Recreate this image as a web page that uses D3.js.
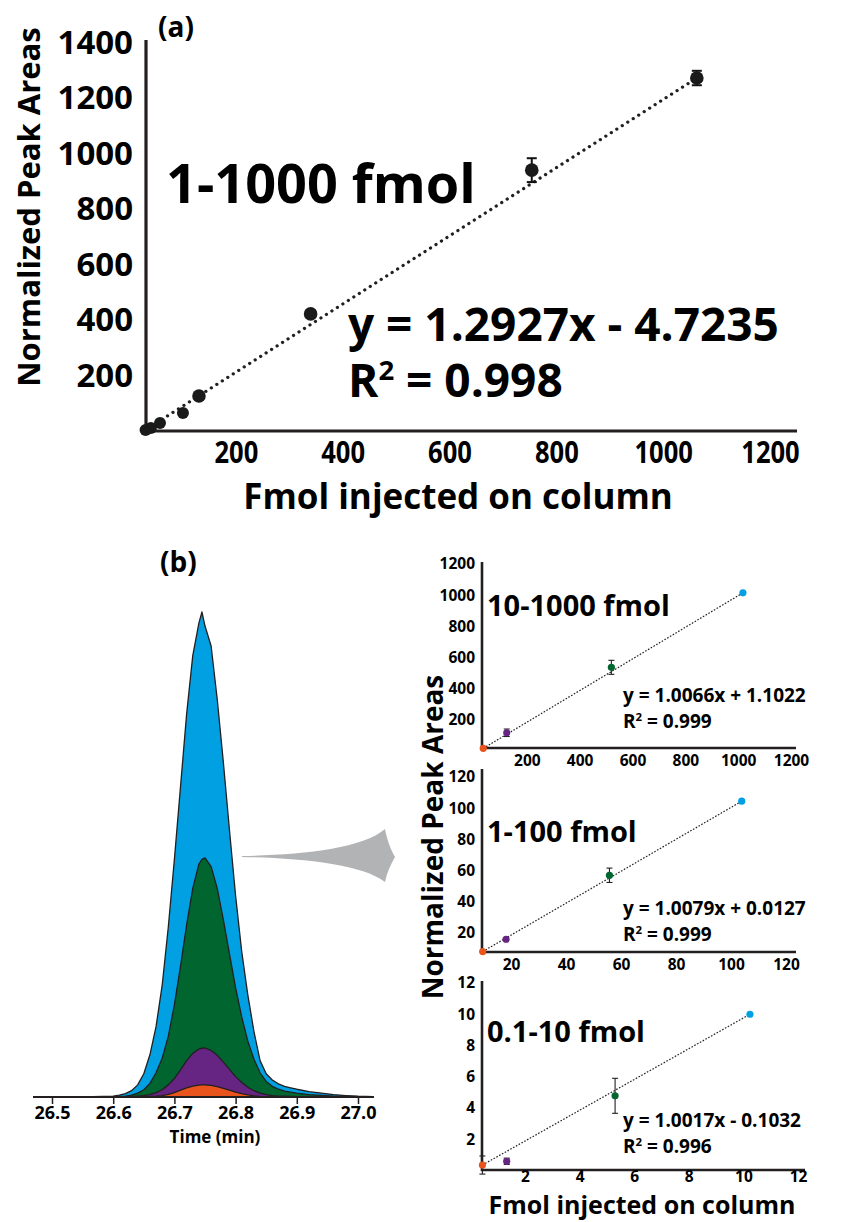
<!DOCTYPE html>
<html>
<head>
<meta charset="utf-8">
<script src="https://cdn.jsdelivr.net/npm/d3@7"></script>
<style>
  body { margin: 0; background: #fff; }
  svg text { font-family: "Open Sans", sans-serif; font-weight: 700; fill: #000; }
</style>
</head>
<body>
<svg id="fig" width="849" height="1222"></svg>
<script>
// ---------- data: panel (a), 1-1000 fmol calibration
const aFmol = [31, 41, 58, 101, 131, 340, 754, 1063]
const aArea = [4, 11, 29, 65, 126, 422, 940, 1272]
const aErr = [0, 0, 0, 0, 0, 12, 43, 26]
const aXTicks = [200, 400, 600, 800, 1000, 1200]
const aYTicks = [200, 400, 600, 800, 1000, 1200, 1400]

// ---------- data: panel (b), extracted ion chromatograms (relative intensity, %)
const chromTime = [26.47, 26.55, 26.60, 26.61, 26.62, 26.63, 26.64, 26.65, 26.66, 26.67,
  26.68, 26.69, 26.70, 26.71, 26.72, 26.73, 26.74, 26.745, 26.75, 26.76,
  26.77, 26.78, 26.79, 26.80, 26.81, 26.82, 26.83, 26.84, 26.85, 26.86,
  26.87, 26.88, 26.89, 26.90, 26.92, 26.94, 26.96, 26.98, 27.00, 27.025]
const chrom1000 = [0, 0, 0.2, 0.4, 0.7, 1.3, 2.5, 4.8, 8.7, 14.5,
  23, 35, 49, 64, 79, 91, 97.7, 100, 97.1, 93,
  82, 69, 55, 41.5, 30, 21, 13.5, 7.5, 4.8, 3.5,
  2.7, 2.2, 1.9, 1.6, 1.1, 0.8, 0.5, 0.3, 0.15, 0.05]
const chrom500 = [0, 0, 0.05, 0.1, 0.2, 0.4, 0.8, 1.5, 2.8, 5,
  8, 12.5, 19, 27, 35.5, 43, 48, 49, 49.3, 47.5,
  43, 36.5, 29.5, 22.5, 16.5, 11.5, 7.8, 5.0, 3.2, 2.2,
  1.6, 1.2, 1.0, 0.8, 0.5, 0.35, 0.2, 0.1, 0.05, 0]
const chrom100 = [0, 0, 0, 0.02, 0.05, 0.1, 0.2, 0.3, 0.5, 0.9,
  1.5, 2.5, 3.8, 5.6, 7.5, 9.0, 9.9, 10.05, 10.1, 9.6,
  8.6, 7.2, 5.7, 4.2, 3.0, 2.0, 1.3, 0.8, 0.5, 0.3,
  0.2, 0.15, 0.1, 0.05, 0.02, 0, 0, 0, 0, 0]
const chrom10 = [0, 0, 0, 0, 0, 0.01, 0.02, 0.05, 0.1, 0.18,
  0.3, 0.55, 0.9, 1.4, 1.9, 2.25, 2.45, 2.48, 2.5, 2.4,
  2.15, 1.8, 1.4, 1.0, 0.7, 0.45, 0.25, 0.12, 0.06, 0.03,
  0.01, 0, 0, 0, 0, 0, 0, 0, 0, 0]
const timeTicks = [26.5, 26.6, 26.7, 26.8, 26.9, 27.0]

// ---------- data: panel (b), the three calibration insets (low, purple, green, high)
const cal1Fmol = [35, 124, 520, 1018]
const cal1Area = [17, 117, 537, 1015]
const cal1Err = [0, 24, 45, 0]
const cal2Fmol = [9.7, 18.2, 55.8, 103.9]
const cal2Area = [8.1, 16.0, 57.0, 104.5]
const cal2Err = [0, 0, 4.6, 0]
const cal3Fmol = [0.44, 1.33, 5.30, 10.24]
const cal3Area = [0.35, 0.59, 4.78, 10.0]
const cal3Err = [0.58, 0.2, 1.12, 0]

const ink = '#231f20'
const concColors = ['#e8541c', '#662483', '#00652e', '#00a0e3']
const svg = d3.select('#fig')

function stripAxis (g, size) {
  g.attr('font-family', null).attr('font-size', null)
  g.select('.domain').remove()
  g.selectAll('.tick text').attr('font-size', size).attr('fill', '#000')
}

function addRSquared (sel, x, y, size, value) {
  const t = sel.append('text').attr('x', x).attr('y', y).attr('font-size', size)
  t.append('tspan').text('R')
  t.append('tspan').attr('font-size', size * 0.6).attr('dy', -size * 0.36).text('2')
  t.append('tspan').attr('dy', size * 0.36).text(' = ' + value)
}

const plain = d3.format('d')

// =============== panel (a)
const xA = d3.scaleLinear().domain([0, 1200]).range([129, 770])
const yA = d3.scaleLinear().domain([0, 1400]).range([431, 42.5])
const gA = svg.append('g')

gA.append('path')
  .attr('d', 'M146,40V431H797')
  .attr('fill', 'none').attr('stroke', ink).attr('stroke-width', 3.2)

gA.append('g').attr('transform', 'translate(133,0)')
  .call(d3.axisLeft(yA).tickValues(aYTicks).tickFormat(plain).tickSize(0).tickPadding(0))
  .call(g => stripAxis(g, 33))

gA.append('g').attr('transform', 'translate(0,441)')
  .call(d3.axisBottom(xA).tickValues(aXTicks).tickFormat(plain).tickSize(0).tickPadding(0))
  .call(g => stripAxis(g, 31))
  .selectAll('.tick text')
  .attr('textLength', d => String(d).length * 14.6)
  .attr('lengthAdjust', 'spacingAndGlyphs')

const nA = aFmol.length - 1
gA.append('line')
  .attr('x1', xA(aFmol[0])).attr('y1', yA(aArea[0]))
  .attr('x2', xA(aFmol[nA])).attr('y2', yA(aArea[nA]))
  .attr('stroke', ink).attr('stroke-width', 3.2)
  .attr('stroke-linecap', 'round').attr('stroke-dasharray', '0.1 6.4')

const errA = gA.selectAll('g.err').data(aFmol.map((f, i) => i).filter(i => aErr[i] > 0)).join('g')
errA.append('line')
  .attr('x1', i => xA(aFmol[i])).attr('x2', i => xA(aFmol[i]))
  .attr('y1', i => yA(aArea[i] + aErr[i])).attr('y2', i => yA(aArea[i] - aErr[i]))
  .attr('stroke', '#111').attr('stroke-width', 2)
errA.selectAll('line.cap').data(i => [[i, 1], [i, -1]]).join('line')
  .attr('x1', d => xA(aFmol[d[0]]) - 5).attr('x2', d => xA(aFmol[d[0]]) + 5)
  .attr('y1', d => yA(aArea[d[0]] + d[1] * aErr[d[0]]))
  .attr('y2', d => yA(aArea[d[0]] + d[1] * aErr[d[0]]))
  .attr('stroke', '#111').attr('stroke-width', 2)

gA.selectAll('circle').data(aFmol).join('circle')
  .attr('cx', d => xA(d)).attr('cy', (d, i) => yA(aArea[i]))
  .attr('r', (d, i) => i < 4 ? 6 : 6.8)
  .attr('fill', '#1a1a1a')

gA.append('text').attr('x', 158).attr('y', 37).attr('font-size', 28).text('(a)')
gA.append('text').attr('x', 166).attr('y', 203).attr('font-size', 54).text('1-1000 fmol')
gA.append('text').attr('x', 348).attr('y', 341).attr('font-size', 46).text('y = 1.2927x - 4.7235')
addRSquared(gA, 348, 397, 46, '0.998')
gA.append('text')
  .attr('transform', 'translate(40,207) rotate(-90)')
  .attr('text-anchor', 'middle').attr('font-size', 31)
  .text('Normalized Peak Areas')
gA.append('text').attr('x', 458).attr('y', 509)
  .attr('text-anchor', 'middle').attr('font-size', 35)
  .text('Fmol injected on column')

// =============== panel (b): chromatogram
const xT = d3.scaleLinear().domain([26.5, 27.0]).range([52, 358])
const yT = d3.scaleLinear().domain([0, 100]).range([1097, 612])
const gB = svg.append('g')

const peakArea = d3.area()
  .x((d, i) => xT(chromTime[i]))
  .y0(yT(0))
  .y1(d => yT(d))

const traces = [chrom1000, chrom500, chrom100, chrom10]
const traceColors = [concColors[3], concColors[2], concColors[1], concColors[0]]
gB.selectAll('path.peak').data(traces).join('path')
  .attr('class', 'peak')
  .attr('d', d => peakArea(d))
  .attr('fill', (d, i) => traceColors[i])
  .attr('stroke', ink).attr('stroke-width', 1.3)
  .attr('stroke-linejoin', 'round')

gB.append('line')
  .attr('x1', 35).attr('x2', 373).attr('y1', yT(0)).attr('y2', yT(0))
  .attr('stroke', ink).attr('stroke-width', 2)

gB.append('g').attr('transform', `translate(0,${yT(0)})`)
  .call(d3.axisBottom(xT).tickValues(timeTicks).tickSize(7).tickPadding(2).tickFormat(d3.format('.1f')))
  .call(g => stripAxis(g, 18))
  .call(g => g.selectAll('.tick line').attr('stroke', ink).attr('stroke-width', 1.5))

gB.append('text').attr('x', 215).attr('y', 1143)
  .attr('text-anchor', 'middle').attr('font-size', 17).text('Time (min)')
gB.append('text').attr('x', 160).attr('y', 572).attr('font-size', 28).text('(b)')

// zoom-out arrow towards the insets
gB.append('path')
  .attr('d', 'M242,856 C300,855 362,849 385,829 C387,840 391,850 395,857 C391,864 387,872 385,882 C362,864 300,858 242,857 Z')
  .attr('fill', '#b2b3b5')

// =============== panel (b): calibration insets
function drawCalibration (cfg) {
  const x = d3.scaleLinear().domain(cfg.xDomain).range(cfg.xRange)
  const y = d3.scaleLinear().domain(cfg.yDomain).range(cfg.yRange)
  const f = cfg.frame
  const g = svg.append('g')

  g.append('path')
    .attr('d', `M${f.left},${f.top}V${f.bottom}H${f.right}`)
    .attr('fill', 'none').attr('stroke', ink).attr('stroke-width', 2.6)

  g.append('g').attr('transform', `translate(${f.left - 7},0)`)
    .call(d3.axisLeft(y).tickValues(cfg.yTicks).tickFormat(plain).tickSize(0).tickPadding(0))
    .call(a => stripAxis(a, 15.5))
  g.append('g').attr('transform', `translate(0,${f.bottom + cfg.xLabelGap})`)
    .call(d3.axisBottom(x).tickValues(cfg.xTicks).tickFormat(plain).tickSize(0).tickPadding(0))
    .call(a => stripAxis(a, 15.5))

  const n = cfg.fmol.length - 1
  g.append('line')
    .attr('x1', x(cfg.fmol[0])).attr('y1', y(cfg.area[0]))
    .attr('x2', x(cfg.fmol[n])).attr('y2', y(cfg.area[n]))
    .attr('stroke', ink).attr('stroke-width', 1.2).attr('stroke-dasharray', '1.6 1.6')

  const idx = cfg.fmol.map((d, i) => i)
  const withErr = idx.filter(i => cfg.err[i] > 0)
  g.selectAll('line.eb').data(withErr).join('line')
    .attr('x1', i => x(cfg.fmol[i])).attr('x2', i => x(cfg.fmol[i]))
    .attr('y1', i => y(cfg.area[i] + cfg.err[i])).attr('y2', i => y(cfg.area[i] - cfg.err[i]))
    .attr('stroke', ink).attr('stroke-width', 1.1)
  g.selectAll('line.cap').data(withErr.flatMap(i => [[i, 1], [i, -1]])).join('line')
    .attr('x1', d => x(cfg.fmol[d[0]]) - 3).attr('x2', d => x(cfg.fmol[d[0]]) + 3)
    .attr('y1', d => y(cfg.area[d[0]] + d[1] * cfg.err[d[0]]))
    .attr('y2', d => y(cfg.area[d[0]] + d[1] * cfg.err[d[0]]))
    .attr('stroke', ink).attr('stroke-width', 1.1)

  g.selectAll('circle').data(idx).join('circle')
    .attr('cx', i => x(cfg.fmol[i])).attr('cy', i => y(cfg.area[i]))
    .attr('r', 3.6).attr('fill', i => concColors[i])

  g.append('text').attr('x', 487).attr('y', cfg.labelY).attr('font-size', 29).text(cfg.label)
  g.append('text').attr('x', 623).attr('y', cfg.eqY).attr('font-size', 19).text(cfg.equation)
  addRSquared(g, 623, cfg.eqY + 26, 19, cfg.r2)
}

drawCalibration({
  fmol: cal1Fmol, area: cal1Area, err: cal1Err,
  xDomain: [0, 1200], xRange: [474, 791],
  yDomain: [0, 1200], yRange: [751, 564],
  xTicks: [200, 400, 600, 800, 1000, 1200],
  yTicks: [200, 400, 600, 800, 1000, 1200],
  frame: { left: 482, top: 562, right: 796, bottom: 748 },
  xLabelGap: 7,
  label: '10-1000 fmol', labelY: 616,
  equation: 'y = 1.0066x + 1.1022', eqY: 702, r2: '0.999'
})
drawCalibration({
  fmol: cal2Fmol, area: cal2Area, err: cal2Err,
  xDomain: [0, 120], xRange: [456, 786],
  yDomain: [0, 120], yRange: [964.2, 777],
  xTicks: [20, 40, 60, 80, 100, 120],
  yTicks: [20, 40, 60, 80, 100, 120],
  frame: { left: 482, top: 769, right: 796, bottom: 952 },
  xLabelGap: 7,
  label: '1-100 fmol', labelY: 842,
  equation: 'y = 1.0079x + 0.0127', eqY: 915, r2: '0.999'
})
drawCalibration({
  fmol: cal3Fmol, area: cal3Area, err: cal3Err,
  xDomain: [0, 12], xRange: [470.4, 798],
  yDomain: [0, 12], yRange: [1170.5, 983],
  xTicks: [2, 4, 6, 8, 10, 12],
  yTicks: [2, 4, 6, 8, 10, 12],
  frame: { left: 482, top: 981, right: 805, bottom: 1170 },
  xLabelGap: 1,
  label: '0.1-10 fmol', labelY: 1042,
  equation: 'y = 1.0017x - 0.1032', eqY: 1127, r2: '0.996'
})

svg.append('text')
  .attr('transform', 'translate(443,837) rotate(-90)')
  .attr('text-anchor', 'middle').attr('font-size', 28)
  .text('Normalized Peak Areas')
svg.append('text').attr('x', 642).attr('y', 1214)
  .attr('text-anchor', 'middle').attr('font-size', 25)
  .text('Fmol injected on column')
</script>
</body>
</html>
